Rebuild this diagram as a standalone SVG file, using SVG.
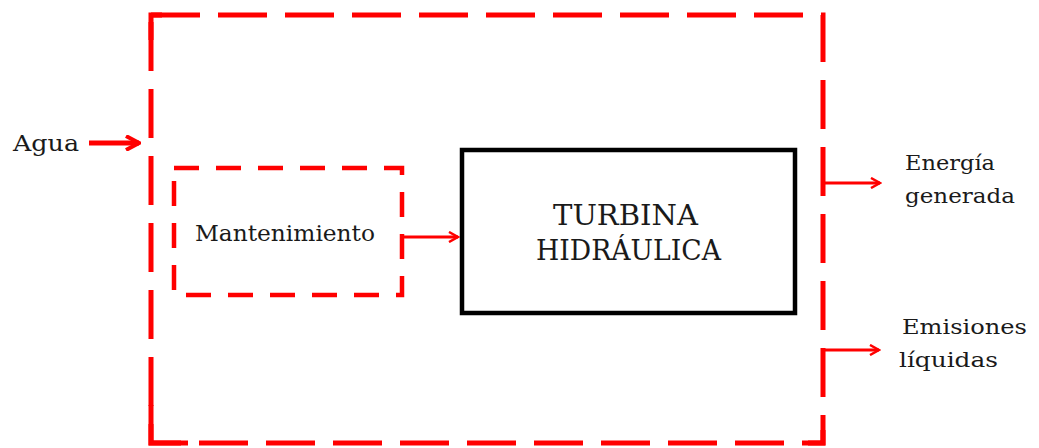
<svg xmlns="http://www.w3.org/2000/svg" width="1039" height="448" viewBox="0 0 1039 448">
  <style>
    .boundary { fill: none; stroke: #ff0000; stroke-width: 5; stroke-dasharray: 49 18; }
    .corner { fill: none; stroke: #ff0000; stroke-width: 5; }
    .sub { fill: none; stroke: #ff0000; stroke-width: 4.5; stroke-dasharray: 25 17; }
    .box { fill: #ffffff; stroke: #000000; stroke-width: 4.5; }
    .flow { fill: none; stroke: #ff0000; stroke-width: 3; }
    .flow-thick { fill: none; stroke: #ff0000; stroke-width: 5; }
    .label { font-family: "DejaVu Serif", "Liberation Serif", serif; font-size: 23px; fill: #1a1a1a; }
    .side { font-family: "DejaVu Serif", "Liberation Serif", serif; font-size: 21px; fill: #1a1a1a; }
    .title { font-family: "DejaVu Serif", "Liberation Serif", serif; font-size: 27px; fill: #1a1a1a; }
  </style>
  <defs>
    <marker id="chevron" viewBox="0 0 12 12" refX="10" refY="6" markerWidth="12" markerHeight="12" markerUnits="userSpaceOnUse" orient="auto">
      <path d="M1,1 L10,6 L1,11" fill="none" stroke="#ff0000" stroke-width="2.5"/>
    </marker>
    <marker id="chevron-big" viewBox="0 0 16 16" refX="14" refY="8" markerWidth="16" markerHeight="16" markerUnits="userSpaceOnUse" orient="auto">
      <path d="M1,1 L14,8 L1,15" fill="none" stroke="#ff0000" stroke-width="4"/>
    </marker>
  </defs>

  <!-- system boundary, with solid corners -->
  <g id="system-boundary">
    <rect class="boundary" x="151" y="15" width="672" height="428"/>
    <path class="corner" d="M151,40 V15 H162"/>
    <path class="corner" d="M151,405 V443 H188"/>
    <path class="corner" d="M808,443 H823 V430"/>
  </g>

  <!-- maintenance sub-process -->
  <g id="mantenimiento">
    <rect class="sub" x="174" y="168" width="228" height="127"/>
    <text class="label" x="195" y="241" textLength="180" lengthAdjust="spacingAndGlyphs">Mantenimiento</text>
  </g>

  <!-- turbine -->
  <g id="turbina">
    <rect class="box" x="462" y="150" width="333" height="163"/>
    <text class="title" x="553" y="225" textLength="145" lengthAdjust="spacingAndGlyphs">TURBINA</text>
    <text class="title" x="536" y="260" textLength="185" lengthAdjust="spacingAndGlyphs">HIDRÁULICA</text>
  </g>

  <!-- inputs and outputs -->
  <g id="agua">
    <text class="label" x="13" y="151" textLength="66" lengthAdjust="spacingAndGlyphs">Agua</text>
  </g>
  <g id="energia">
    <text class="side" x="905" y="170" textLength="90" lengthAdjust="spacingAndGlyphs">Energía</text>
    <text class="side" x="905" y="203" textLength="110" lengthAdjust="spacingAndGlyphs">generada</text>
  </g>
  <g id="emisiones">
    <text class="side" x="902" y="334" textLength="125" lengthAdjust="spacingAndGlyphs">Emisiones</text>
    <text class="side" x="899" y="367" textLength="99" lengthAdjust="spacingAndGlyphs">líquidas</text>
  </g>

  <!-- connectors -->
  <g id="connectors">
    <line class="flow-thick" x1="89" y1="143" x2="139" y2="143" marker-end="url(#chevron-big)"/>
    <line class="flow" x1="403" y1="237" x2="458" y2="237" marker-end="url(#chevron)"/>
    <line class="flow" x1="823" y1="183" x2="880" y2="183" marker-end="url(#chevron)"/>
    <line class="flow" x1="823" y1="350" x2="879" y2="350" marker-end="url(#chevron)"/>
  </g>
</svg>
